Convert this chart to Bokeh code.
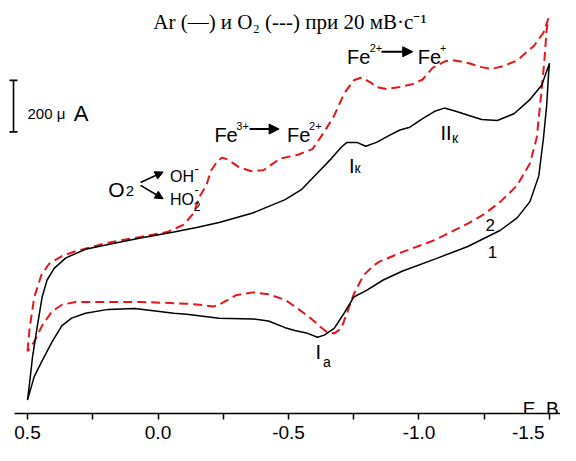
from bokeh.plotting import figure
from bokeh.models import Range1d, FixedTicker, Label, Arrow, NormalHead
from bokeh.embed import file_html
from bokeh.resources import INLINE

# ---- data (E in V, I in uA, arbitrary zero) ----
e_ar = [0.500, 0.492, 0.481, 0.462, 0.444, 0.425, 0.398, 0.353, 0.278, 0.191,
        0.067, -0.061, -0.148, -0.234, -0.363, -0.487, -0.551, -0.611, -0.664, -0.702,
        -0.724, -0.762, -0.796, -0.837, -0.890, -0.927, -0.965, -1.014, -1.063, -1.097,
        -1.138, -1.191, -1.240, -1.300, -1.364, -1.425, -1.470, -1.500,
        -1.496, -1.489, -1.477, -1.459, -1.425, -1.376, -1.312, -1.187, -1.063, -0.935,
        -0.863, -0.799, -0.750, -0.713, -0.675, -0.637, -0.611, -0.573, -0.524, -0.487,
        -0.423, -0.363, -0.234, -0.110, -0.061, 0.089, 0.191, 0.278, 0.331, 0.368,
        0.406, 0.444, 0.474, 0.500]
i_ar = [52, 118, 218, 341, 452, 518, 563, 604, 637, 656,
        681, 704, 722, 741, 778, 830, 870, 933, 989, 1033,
        1052, 1052, 1037, 1052, 1081, 1100, 1111, 1144, 1174, 1185,
        1174, 1156, 1141, 1137, 1163, 1218, 1274, 1359,
        1311, 1193, 1070, 922, 822, 759, 711, 648, 600, 552,
        518, 478, 452, 389, 330, 304, 296, 311, 322, 333,
        359, 367, 370, 385, 389, 407, 404, 389, 370, 341,
        278, 204, 144, 52]

e_o2 = [0.500, 0.492, 0.474, 0.447, 0.417, 0.368, 0.315, 0.191, 0.067, -0.035,
        -0.099, -0.137, -0.159, -0.185, -0.204, -0.227, -0.246, -0.268, -0.310, -0.355,
        -0.404, -0.468, -0.536, -0.592, -0.637, -0.675, -0.713, -0.750, -0.781, -0.814,
        -0.837, -0.875, -0.927, -0.976, -1.014, -1.052, -1.101, -1.138, -1.191, -1.240,
        -1.278, -1.323, -1.376, -1.440, -1.477, -1.496,
        -1.489, -1.481, -1.470, -1.451, -1.425, -1.376, -1.312, -1.251, -1.187, -1.063,
        -0.935, -0.848, -0.826, -0.788, -0.750, -0.724, -0.702, -0.675, -0.649, -0.626,
        -0.588, -0.536, -0.487, -0.423, -0.363, -0.299, -0.234, -0.212, -0.159, -0.110,
        0.067, 0.191, 0.315, 0.368, 0.406, 0.444, 0.474, 0.500]
i_o2 = [241, 330, 452, 537, 581, 611, 630, 663, 685, 704,
        733, 778, 841, 885, 944, 978, 993, 985, 956, 941,
        944, 989, 1004, 1026, 1093, 1156, 1241, 1293, 1304, 1285,
        1267, 1259, 1267, 1278, 1296, 1341, 1367, 1370, 1359, 1344,
        1337, 1348, 1370, 1426, 1478, 1533,
        1489, 1378, 1256, 1070, 970, 885, 822, 774, 737, 674,
        626, 589, 574, 537, 463, 389, 330, 311, 315, 333,
        367, 407, 441, 463, 470, 459, 422, 415, 422, 426,
        433, 433, 433, 422, 396, 341, 278, 241]

tick_values = [0.5, 0.0, -0.5, -1.0, -1.5]
tick_labels = ["0.5", "0.0", "-0.5", "-1.0", "-1.5\u00a0\u00a0\u00a0"]
minor_tick_values = [0.25, -0.25, -0.75, -1.25]
scale_bar_ua = 200

p = figure(width=560, height=445, output_backend="svg", toolbar_location=None, tools="",
           x_range=Range1d(0.60345, -1.54215), y_range=Range1d(0, 1602.5),
           y_axis_location=None, min_border_left=0, min_border_right=0,
           min_border_top=0, min_border_bottom=28)
p.outline_line_color = None
p.grid.grid_line_color = None
p.background_fill_color = "white"
p.border_fill_color = "white"

ax = p.xaxis[0]
ax.ticker = FixedTicker(ticks=tick_values, minor_ticks=minor_tick_values)
ax.major_label_overrides = {v: l for v, l in zip(tick_values, tick_labels)}
ax.bounds = (0.55, -1.54215)
ax.axis_line_color = "black"
ax.axis_line_width = 1.5
ax.major_tick_in = 0
ax.major_tick_out = 6
ax.minor_tick_in = 0
ax.minor_tick_out = 6
ax.major_tick_line_width = 1.5
ax.minor_tick_line_width = 1.5
ax.major_tick_line_color = "black"
ax.minor_tick_line_color = "black"
ax.major_label_text_font = "Liberation Sans"
ax.major_label_text_font_size = "19px"
ax.major_label_text_color = "black"
ax.major_label_standoff = 2

p.line(e_o2, i_o2, line_color="#e8141a", line_width=2, line_dash="9 5")
p.line(e_ar, i_ar, line_color="black", line_width=1.5)

SANS = "Liberation Sans"


def lab(x, y, text, size, font=SANS, align="left"):
    p.add_layout(Label(x=x, y=y, text=text, text_font=font, text_font_size=f"{size}px",
                       text_color="black", text_align=align, text_baseline="alphabetic"))


# title
lab(-0.5056, 1520, "Ar (\u2014) \u0438 O\u2082 (---) \u043f\u0440\u0438 20 \u043c\u0412\u00b7\u0441\u207b\u00b9",
    21, font="Liberation Serif", align="center")

# axis title
lab(-1.535, 18.5, "E, B", 19, align="right")

# scale bar
sx = 0.5536
cap = 0.0153
p.segment(x0=[sx, sx - cap, sx - cap], y0=[1092.6, 1092.6, 1092.6 + scale_bar_ua],
          x1=[sx, sx + cap, sx + cap], y1=[1092.6 + scale_bar_ua, 1092.6, 1092.6 + scale_bar_ua],
          line_color="black", line_width=1.6)
lab(0.5, 1163, "200 \u03bc", 15)
lab(0.323, 1163, "A", 22)

# Fe3+ -> Fe2+
lab(-0.216, 1081.5, "Fe", 20)
lab(-0.300, 1114.8, "3+", 11)
p.add_layout(Arrow(end=NormalHead(size=10, fill_color="black", line_color="black"),
                   x_start=-0.351, y_start=1103.7, x_end=-0.464, y_end=1103.7,
                   line_color="black", line_width=2))
lab(-0.494, 1081.5, "Fe", 20)
lab(-0.579, 1114.8, "2+", 11)

# Fe2+ -> Fe+
lab(-0.724, 1385.2, "Fe", 20)
lab(-0.811, 1418.5, "2+", 11)
p.add_layout(Arrow(end=NormalHead(size=10, fill_color="black", line_color="black"),
                   x_start=-0.856, y_start=1403.7, x_end=-0.976, y_end=1403.7,
                   line_color="black", line_width=2))
lab(-0.995, 1385.2, "Fe", 20)
lab(-1.080, 1418.5, "+", 11)

# O2 -> OH-, HO2-
lab(0.191, 870.4, "O", 21)
lab(0.1234, 863, "2", 15)
p.add_layout(Arrow(end=NormalHead(size=8, fill_color="black", line_color="black"),
                   x_start=0.0669, y_start=896.3, x_end=-0.0198, y_end=937,
                   line_color="black", line_width=1.6))
p.add_layout(Arrow(end=NormalHead(size=8, fill_color="black", line_color="black"),
                   x_start=0.0669, y_start=885.2, x_end=-0.0198, y_end=833.3,
                   line_color="black", line_width=1.6))
lab(-0.0461, 918.5, "OH", 16)
lab(-0.140, 951.9, "-", 13)
lab(-0.0461, 829.6, "HO", 16)
lab(-0.1365, 803.7, "2", 12)
lab(-0.140, 870.4, "-", 13)

# peak labels
lab(-0.7316, 959.3, "I", 20)
lab(-0.7525, 951.9, "\u043a", 14)
lab(-1.082, 1088.9, "II", 20)
lab(-1.126, 1070.4, "\u043a", 14)
lab(-0.6036, 237, "I", 20)
lab(-0.632, 200, "\u0430", 14)

# curve numbers
lab(-1.255, 729.6, "2", 17)
lab(-1.263, 625.9, "1", 17)

open("out.html", "w").write(file_html(p, INLINE))
